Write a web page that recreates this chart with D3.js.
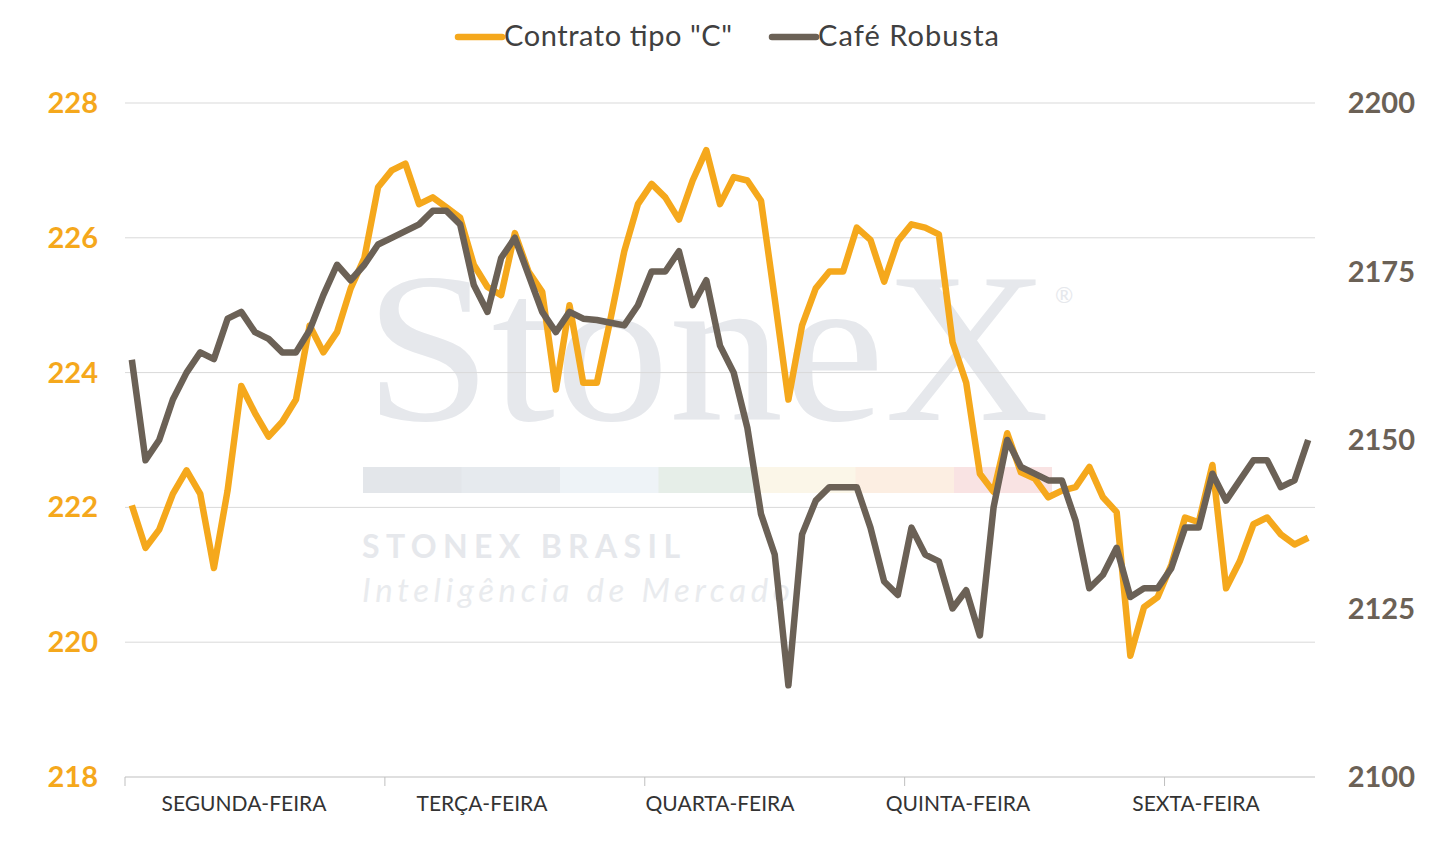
<!DOCTYPE html>
<html><head><meta charset="utf-8">
<script src="https://cdn.jsdelivr.net/npm/d3@7"></script>
<style>body{margin:0;background:#fff;font-family:Lato,"Open Sans",sans-serif}</style>
</head><body><svg id="c" width="1455" height="842"></svg>
<script>
const days=["SEGUNDA-FEIRA","TERÇA-FEIRA","QUARTA-FEIRA","QUINTA-FEIRA","SEXTA-FEIRA"];
const pointsPerDay=19;
const contratoC=[222.03,221.4,221.67,222.2,222.55,222.2,221.1,222.25,223.8,223.4,223.05,223.27,223.6,224.7,224.3,224.6,225.25,225.7,226.75,
227.0,227.1,226.5,226.6,226.45,226.3,225.6,225.27,225.15,226.07,225.5,225.2,223.75,225.0,223.85,223.85,224.8,225.8,226.5,
226.8,226.6,226.27,226.85,227.3,226.5,226.9,226.85,226.55,225.1,223.6,224.7,225.25,225.5,225.5,226.15,225.97,225.35,225.95,
226.2,226.15,226.05,224.45,223.85,222.5,222.23,223.1,222.52,222.43,222.15,222.25,222.3,222.6,222.15,221.93,219.8,220.52,220.67,
221.15,221.85,221.78,222.63,220.8,221.2,221.75,221.85,221.6,221.45,221.55];
const robusta=[2161.9,2147,2150,2156,2160,2163,2162,2168,2169,2166,2165,2163,2163,2166.3,2171.5,2176,2173.7,2176,2179,
2180,2181,2182,2184,2184,2182,2173,2169,2177,2180,2174.5,2169,2166,2169,2168,2167.8,2167.4,2167,2170,
2175,2175,2178,2170,2173.7,2164,2160,2151.8,2139,2133,2113.6,2136,2141,2143,2143,2143,2137,2129,2127,
2137,2133,2132,2125,2127.7,2121,2140,2150,2146,2145,2144,2144,2138,2128,2130,2134,2126.7,2128,2128,
2131,2137,2137,2145,2141,2144,2147,2147,2143,2144,2150];
const leftTicks=[218,220,222,224,226,228];
const rightTicks=[2100,2125,2150,2175,2200];
const ORANGE="#F5A81C",GRAY="#6B6156";
const svg=d3.select("#c");
const L=125,R=1315,T=103,B=777;
const n=contratoC.length;
const x=d3.scaleLinear().domain([0,n]).range([L,R]);
const xl=d3.scaleBand().domain(days).range([L,R]);
const yL=d3.scaleLinear().domain([218,228]).range([B,T]);
const yR=d3.scaleLinear().domain([2100,2200]).range([B,T]);
// watermark
const wm=svg.append("g");
wm.append("text").attr("x",707).attr("y",420).attr("text-anchor","middle").attr("font-family","Liberation Serif,serif").attr("font-size",215).attr("textLength",685).attr("lengthAdjust","spacingAndGlyphs").attr("fill","#E6E8EC").text("StoneX");
wm.append("text").attr("x",1055).attr("y",303).attr("font-size",22).attr("fill","#E6E8EC").text("®");
const bc=["#E3E6EA","#E6EAEE","#EEF3F7","#E6EEE8","#FBF6E8","#FCEEE2","#F9E3E3"];
bc.forEach((c,i)=>wm.append("rect").attr("x",363+i*98.5).attr("y",467).attr("width",i==6?98:99).attr("height",26).attr("fill",c));
wm.append("text").attr("x",362).attr("y",558).attr("font-size",32).attr("font-weight","bold").attr("textLength",318).attr("fill","#E6E8EC").text("STONEX BRASIL");
wm.append("text").attr("x",362).attr("y",602).attr("font-size",33).attr("font-style","italic").attr("textLength",428).attr("fill","#E9EBEE").text("Inteligência de Mercado");
// grid
svg.append("g").selectAll("line").data(leftTicks.slice(1)).join("line").attr("x1",L).attr("x2",R).attr("y1",d=>yL(d)).attr("y2",d=>yL(d)).attr("stroke","#D9D9D9");
svg.append("line").attr("x1",L).attr("x2",R).attr("y1",B).attr("y2",B).attr("stroke","#BFBFBF");
const bounds=d3.range(0,n+1,pointsPerDay);
svg.append("g").selectAll("line").data(bounds).join("line").attr("x1",d=>x(d)).attr("x2",d=>x(d)).attr("y1",B).attr("y2",B+9).attr("stroke","#BFBFBF");
svg.append("g").selectAll("text").data(days).join("text").attr("x",d=>xl(d)+xl.bandwidth()/2).attr("y",811).attr("text-anchor","middle").attr("font-size",21).attr("fill","#333").text(d=>d);
svg.append("g").selectAll("text").data(leftTicks).join("text").attr("x",98).attr("y",d=>yL(d)+10).attr("text-anchor","end").attr("font-size",29).attr("font-weight","bold").attr("fill",ORANGE).text(d=>d);
svg.append("g").selectAll("text").data(rightTicks).join("text").attr("x",1415).attr("y",d=>yR(d)+10).attr("text-anchor","end").attr("font-size",29).attr("font-weight","bold").attr("fill",GRAY).text(d=>d);
const lo=d3.line().x((d,i)=>x(i+0.5)).y(d=>yL(d));
const lr=d3.line().x((d,i)=>x(i+0.5)).y(d=>yR(d));
svg.append("path").attr("d",lo(contratoC)).attr("fill","none").attr("stroke",ORANGE).attr("stroke-width",6.5).attr("stroke-linejoin","round");
svg.append("path").attr("d",lr(robusta)).attr("fill","none").attr("stroke",GRAY).attr("stroke-width",6.5).attr("stroke-linejoin","round");
// legend
const lg=[["Contrato tipo \"C\"",ORANGE,458,228],["Café Robusta",GRAY,772,181]];
lg.forEach(([t,c,lx,w])=>{svg.append("line").attr("x1",lx).attr("x2",lx+44).attr("y1",37).attr("y2",37).attr("stroke",c).attr("stroke-width",6.5).attr("stroke-linecap","round");
svg.append("text").attr("x",lx+46).attr("y",46).attr("font-size",29).attr("textLength",w).attr("fill","#404040").text(t);});
</script></body></html>
